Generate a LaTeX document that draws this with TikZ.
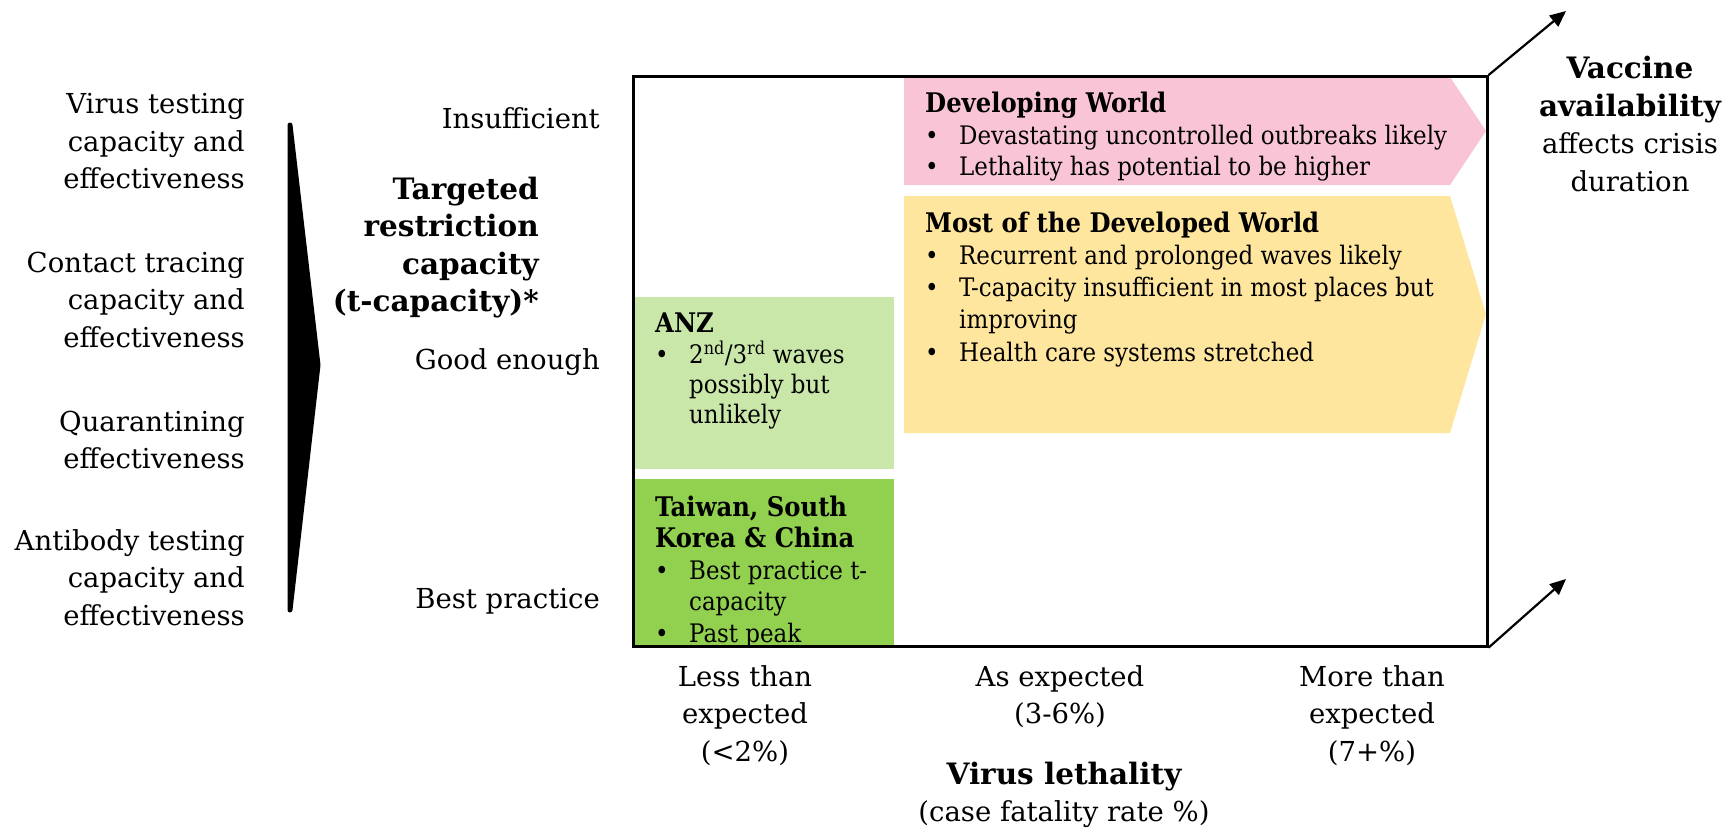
\documentclass[tikz,border=0pt]{standalone}
\usepackage{fontspec}
\setmainfont{DejaVu Serif}
\newfontfamily\condfont{DejaVu Serif Condensed}
\usetikzlibrary{arrows.meta}
\definecolor{pinkc}{HTML}{F9C5D6}
\definecolor{yellowc}{HTML}{FFE69E}
\definecolor{lgreenc}{HTML}{CAE7AA}
\definecolor{dgreenc}{HTML}{92D050}
\newcommand{\bul}{\textbullet}
\newcommand{\bighead}[1]{{\fontsize{27}{31.5}\selectfont\bfseries #1}}
\newcommand{\bigbold}[1]{{\fontsize{29.5}{37.5}\selectfont\bfseries #1}}
\begin{document}
\begin{tikzpicture}[x=1pt,y=-1pt,
  lab/.style={inner sep=0pt, font=\fontsize{27.5}{37.5}\selectfont},
  boxtxt/.style={inner sep=0pt, anchor=base west, font=\condfont\fontsize{25.5}{31.5}\selectfont},
  arr/.style={line width=2.2pt, -{Triangle[length=16pt,width=14pt]}}]
\useasboundingbox (0,0) rectangle (1735,832);
% coloured regions
\fill[pinkc] (904,77) -- (1450,77) -- (1486,131) -- (1450,185) -- (904,185) -- cycle;
\fill[yellowc] (904,196) -- (1450,196) -- (1486,314) -- (1450,433) -- (904,433) -- cycle;
\fill[lgreenc] (634,297) rectangle (894,469);
\fill[dgreenc] (634,479) rectangle (894,645);
% main frame
\node[draw, line width=2.6pt, minimum width=854pt, minimum height=570pt, inner sep=0pt, anchor=north west] (grid) at (632,75) {};
\coordinate (a1) at (1566,11);
\coordinate (a2) at (1566,579);
\draw[arr] (grid.north east) -- (a1);
\draw[arr] (grid.south east) -- (a2);
% wedge
\filldraw[line width=5pt, line join=round] (290,125) -- (318,365) -- (290,610) -- cycle;
% left labels
\node[lab, anchor=base east] (l1) at (245,114) {\begin{tabular}[t]{@{}r@{}}Virus testing\\capacity and\\effectiveness\end{tabular}};
\node[lab, anchor=base east] (l2) at (245,272) {\begin{tabular}[t]{@{}r@{}}Contact tracing\\capacity and\\effectiveness\end{tabular}};
\node[lab, anchor=base east] (l3) at (245,431) {\begin{tabular}[t]{@{}r@{}}Quarantining\\effectiveness\end{tabular}};
\node[lab, anchor=base east] (l4) at (245,550) {\begin{tabular}[t]{@{}r@{}}Antibody testing\\capacity and\\effectiveness\end{tabular}};
% y levels
\node[lab, anchor=base east] (y1) at (600,129) {Insufficient};
\node[lab, anchor=base east] (y2) at (600,369) {Good enough};
\node[lab, anchor=base east] (y3) at (600,608) {Best practice};
\node[lab, anchor=base east, font=\fontsize{29.5}{37.5}\selectfont\bfseries] (ytitle) at (539,199) {\begin{tabular}[t]{@{}r@{}}Targeted\\restriction\\capacity\\(t-capacity)*\end{tabular}};
% x levels
\node[lab, anchor=base] (x1) at (745,686) {\begin{tabular}[t]{@{}c@{}}Less than\\expected\\(<2\%)\end{tabular}};
\node[lab, anchor=base] (x2) at (1060,686) {\begin{tabular}[t]{@{}c@{}}As expected\\(3-6\%)\end{tabular}};
\node[lab, anchor=base] (x3) at (1372,686) {\begin{tabular}[t]{@{}c@{}}More than\\expected\\(7+\%)\end{tabular}};
\node[lab, anchor=base] (xtitle) at (1064,784) {\begin{tabular}[t]{@{}c@{}}\bigbold{Virus lethality}\\(case fatality rate \%)\end{tabular}};
% vaccine
\node[lab, anchor=base] (vac) at (1630,79) {\begin{tabular}[t]{@{}c@{}}\bigbold{Vaccine}\\\bigbold{availability}\\affects crisis\\duration\end{tabular}};
% box texts
\node[boxtxt] (dev) at (925,113) {\begin{tabular}[t]{@{}p{34pt}@{}l@{}}\multicolumn{2}{@{}l@{}}{\bighead{Developing World}}\\
\bul & Devastating uncontrolled outbreaks likely\\
\bul & Lethality has potential to be higher\end{tabular}};
\node[boxtxt, font=\condfont\fontsize{25.5}{32.3}\selectfont] (most) at (925,232) {\begin{tabular}[t]{@{}p{34pt}@{}l@{}}\multicolumn{2}{@{}l@{}}{\bighead{Most of the Developed World}}\\
\bul & Recurrent and prolonged waves likely\\
\bul & T-capacity insufficient in most places but\\
 & improving\\
\bul & Health care systems stretched\end{tabular}};
\node[boxtxt, font=\condfont\fontsize{25.5}{30}\selectfont] (anz) at (655,332) {\begin{tabular}[t]{@{}p{34pt}@{}l@{}}\multicolumn{2}{@{}l@{}}{\bighead{ANZ}}\\
\bul & 2\textsuperscript{nd}/3\textsuperscript{rd} waves\\
 & possibly but\\
 & unlikely\end{tabular}};
\node[boxtxt] (twn) at (655,516) {\begin{tabular}[t]{@{}p{34pt}@{}l@{}}\multicolumn{2}{@{}l@{}}{\bighead{Taiwan, South}}\\
\multicolumn{2}{@{}l@{}}{\bighead{Korea \& China}}\\
\bul & Best practice t-\\
 & capacity\\
\bul & Past peak\end{tabular}};
\end{tikzpicture}
\end{document}
